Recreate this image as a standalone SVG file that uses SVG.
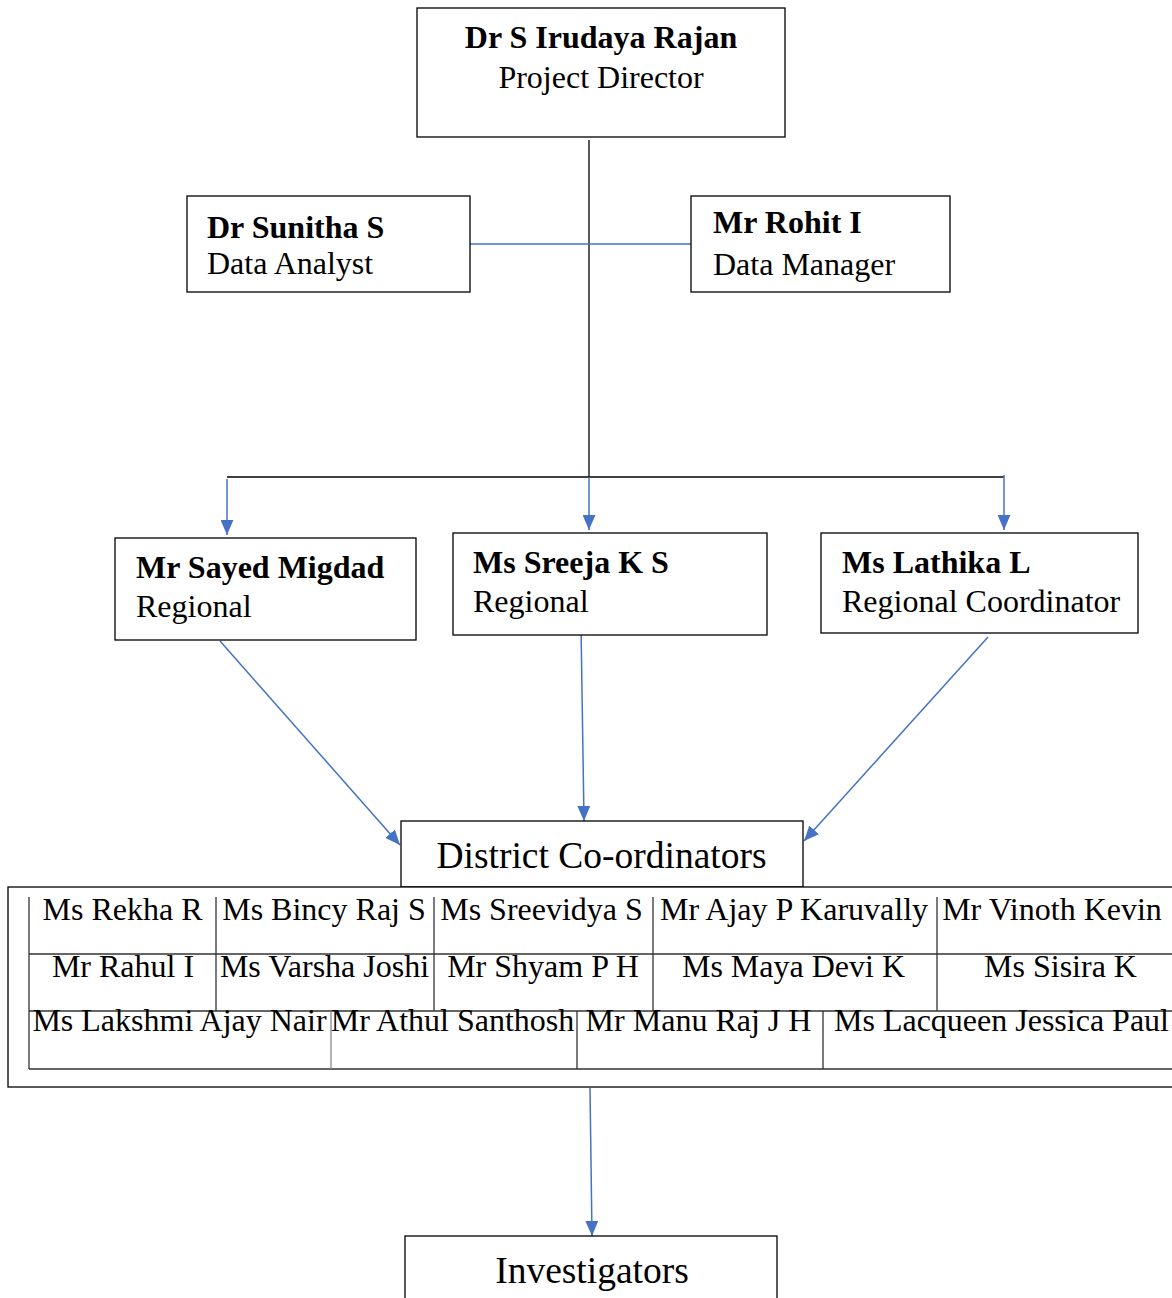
<svg xmlns="http://www.w3.org/2000/svg" width="1172" height="1298" viewBox="0 0 1172 1298">
<defs>
<style>
.box{fill:#fff;stroke:#000;stroke-width:1.3}
.t{font-family:"Liberation Serif","Times New Roman",serif;font-size:32px;fill:#000}
.b{font-weight:bold}
.m{text-anchor:middle}
.big{font-size:37.5px}
.blue{stroke:#4472C4;stroke-width:1.5;fill:none}
.blk{stroke:#000;stroke-width:1.3;fill:none}
.grid{stroke:#333;stroke-width:1.3;fill:none}
</style>
<marker id="arr" viewBox="0 0 14 12" refX="14" refY="6" markerWidth="15" markerHeight="13" markerUnits="userSpaceOnUse" orient="auto">
<path d="M0,0 L14,6 L0,12 z" fill="#4472C4"/>
</marker>
</defs>
<rect width="1172" height="1298" fill="#fff"/>

<g id="connectors">
<line class="blk" x1="589" y1="140" x2="589" y2="477"/>
<line class="blue" x1="470" y1="244" x2="691" y2="244"/>
<line class="blk" x1="227" y1="477" x2="1004" y2="477"/>
<line class="blue" x1="227" y1="479" x2="227" y2="535" marker-end="url(#arr)"/>
<line class="blue" x1="589" y1="477" x2="589" y2="530" marker-end="url(#arr)"/>
<line class="blue" x1="1004" y1="475" x2="1004" y2="530" marker-end="url(#arr)"/>
<line class="blue" x1="220" y1="641" x2="400" y2="845" marker-end="url(#arr)"/>
<line class="blue" x1="581" y1="626" x2="584" y2="821" marker-end="url(#arr)"/>
<line class="blue" x1="988" y1="637" x2="804" y2="841" marker-end="url(#arr)"/>
<line class="blue" x1="590" y1="1088" x2="592" y2="1236" marker-end="url(#arr)"/>
</g>

<g id="director">
<rect class="box" x="417" y="8" width="368" height="129"/>
<text class="t b m" x="601" y="48">Dr S Irudaya Rajan</text>
<text class="t m" x="601" y="88">Project Director</text>
</g>

<g id="sunitha">
<rect class="box" x="187" y="196" width="283" height="96"/>
<text class="t b" x="207" y="238">Dr Sunitha S</text>
<text class="t" x="207" y="274">Data Analyst</text>
</g>

<g id="rohit">
<rect class="box" x="691" y="196" width="259" height="96"/>
<text class="t b" x="713" y="233">Mr Rohit I</text>
<text class="t" x="713" y="275">Data Manager</text>
</g>

<g id="sayed">
<rect class="box" x="115" y="538" width="301" height="102"/>
<text class="t b" x="136" y="578">Mr Sayed Migdad</text>
<text class="t" x="136" y="617">Regional</text>
</g>

<g id="sreeja">
<rect class="box" x="453" y="533" width="314" height="102"/>
<text class="t b" x="473" y="573">Ms Sreeja K S</text>
<text class="t" x="473" y="612">Regional</text>
</g>

<g id="lathika">
<rect class="box" x="821" y="533" width="317" height="100"/>
<text class="t b" x="842" y="573">Ms Lathika L</text>
<text class="t" x="842" y="612">Regional Coordinator</text>
</g>

<g id="district">
<rect class="box" x="401" y="821" width="402" height="66"/>
<text class="t m big" x="601.5" y="868">District Co-ordinators</text>
</g>

<g id="district-table">
<rect class="box" x="8" y="887" width="1180" height="200"/>
<line class="grid" x1="29" y1="897" x2="29" y2="1069"/>
<line class="grid" x1="29" y1="954" x2="1172" y2="954"/>
<line class="grid" x1="29" y1="1011" x2="1172" y2="1011"/>
<line class="grid" x1="29" y1="1069" x2="1172" y2="1069"/>
<line class="grid" x1="216" y1="897" x2="216" y2="1011"/>
<line class="grid" x1="434" y1="897" x2="434" y2="1011"/>
<line class="grid" x1="653" y1="897" x2="653" y2="1011"/>
<line class="grid" x1="937" y1="897" x2="937" y2="1011"/>
<line class="grid" x1="331" y1="1011" x2="331" y2="1069" style="stroke:#888"/>
<line class="grid" x1="577" y1="1011" x2="577" y2="1069"/>
<line class="grid" x1="823" y1="1011" x2="823" y2="1069"/>
<text class="t m" x="122.5" y="920">Ms Rekha R</text>
<text class="t m" x="324" y="920">Ms Bincy Raj S</text>
<text class="t m" x="541.5" y="920">Ms Sreevidya S</text>
<text class="t m" x="794" y="920">Mr Ajay P Karuvally</text>
<text class="t m" x="1052" y="920">Mr Vinoth Kevin</text>
<text class="t m" x="123" y="977">Mr Rahul I</text>
<text class="t m" x="324.5" y="977">Ms Varsha Joshi</text>
<text class="t m" x="543" y="977">Mr Shyam P H</text>
<text class="t m" x="793.5" y="977">Ms Maya Devi K</text>
<text class="t m" x="1060.5" y="977">Ms Sisira K</text>
<text class="t m" x="179.5" y="1031">Ms Lakshmi Ajay Nair</text>
<text class="t m" x="452.5" y="1031">Mr Athul Santhosh</text>
<text class="t m" x="698.5" y="1031">Mr Manu Raj J H</text>
<text class="t m" x="1001.5" y="1031">Ms Lacqueen Jessica Paul</text>
</g>

<g id="investigators">
<rect class="box" x="405" y="1236" width="372" height="80"/>
<text class="t m big" x="592" y="1283">Investigators</text>
</g>
</svg>
